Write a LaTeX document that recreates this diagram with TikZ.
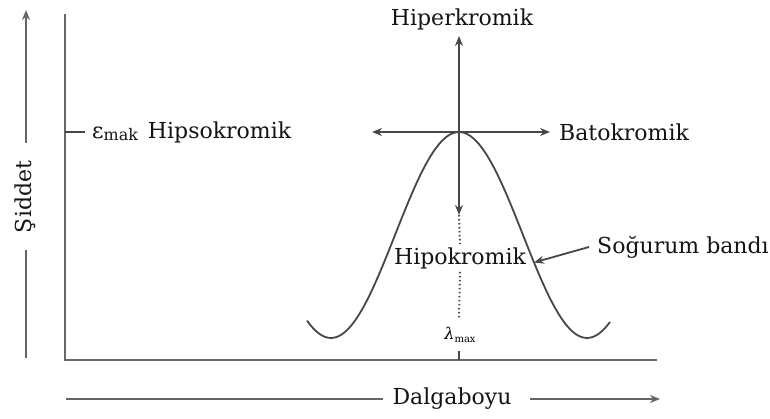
\documentclass[tikz,border=0pt]{standalone}
\usepackage{fontspec}
\setmainfont{DejaVu Serif}
\usetikzlibrary{arrows.meta}
\begin{document}
\begin{tikzpicture}[x=1pt,y=-1pt,
  ax/.style={line width=2.2pt, draw=black!60},
  ln/.style={line width=1.8pt, draw=black!72},
  arr/.style={ln, -{Stealth[length=10pt,width=8pt]}},
  dots/.style={line width=2pt, draw=black!70, dash pattern=on 1.5pt off 2.5pt},
  lbl/.style={font=\fontsize{22}{25}\selectfont, inner sep=0pt, text=black!92}]
\useasboundingbox (0,0) rectangle (770,419);
% axes
\coordinate (ytop) at (65,14);
\coordinate (orig) at (65,360);
\coordinate (xend) at (657,360);
\draw[ax] (ytop) -- (orig) -- (xend);
% Siddet arrow
\node[lbl, rotate=90] (sid) at (25,197) {Şiddet};
\coordinate (s1) at (26,143); \coordinate (s0) at (26,10);
\coordinate (s2) at (26,250); \coordinate (s3) at (26,358);
\draw[arr, draw=black!60] (s1) -- (s0);
\draw[ax, line width=1.8pt] (s2) -- (s3);
% Dalgaboyu arrow
\node[lbl] (dal) at (452,399) {Dalgaboyu};
\coordinate (d0) at (66,399); \coordinate (d1) at (383,399);
\coordinate (d2) at (530,399); \coordinate (d3) at (660,399);
\draw[ax, line width=1.8pt] (d0) -- (d1);
\draw[arr, draw=black!60] (d2) -- (d3);
% emax tick and label
\coordinate (t0) at (65,132); \coordinate (t1) at (85,132);
\draw[ln] (t0) -- (t1);
\node[lbl, anchor=west] (hipso) at (92,132) {ε\raisebox{-2pt}{\fontsize{16}{16}\selectfont mak}\hspace{3pt} Hipsokromik};
% curve
\draw[ln] plot[domain=-152:151, samples=90] ({459+\x},{235-103*cos(1.40625*\x)});
% peak arrows
\coordinate (peak) at (459,132);
\coordinate (up) at (459,36);
\coordinate (left) at (372,132);
\coordinate (right) at (550,132);
\coordinate (down) at (459,215);
\draw[arr] (peak) -- (up);
\draw[arr] (peak) -- (left);
\draw[arr] (peak) -- (right);
\draw[arr] (peak) -- (down);
\node[lbl] (hiper) at (462,19) {Hiperkromik};
\node[lbl, anchor=west] (bato) at (559,132) {Batokromik};
\node[lbl] (hipo) at (460,258) {Hipokromik};
\coordinate (dd) at (459,319);
\draw[dots] (down) -- ([yshift=3pt]hipo.north);
\draw[dots] ([yshift=-3pt]hipo.south) -- (dd);
% lambda max
\node[inner sep=0pt] (lam) at (460,335) {{\fontsize{16}{16}\selectfont\itshape λ}\raisebox{-3pt}{\fontsize{10}{10}\selectfont max}};
\coordinate (k0) at (459,351); \coordinate (k1) at (459,360);
\draw[ln] (k0) -- (k1);
% Sogurum bandi
\node[lbl, anchor=west] (sog) at (597,247) {Soğurum bandı};
\coordinate (cpt) at ({459+75},{235-103*cos(1.40625*75)});
\draw[arr] (sog.west) ++(-8pt,0) -- (cpt);
\end{tikzpicture}
\end{document}
